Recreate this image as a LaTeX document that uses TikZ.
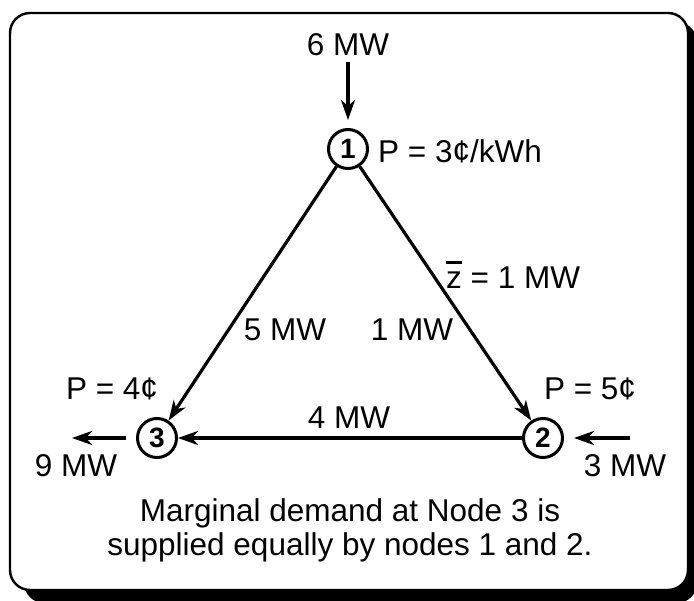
\documentclass[tikz,border=0pt]{standalone}
\usepackage{fontspec}
\setmainfont{Liberation Sans}
\usetikzlibrary{arrows.meta}
\newcommand{\zbar}{\makebox[0pt][l]{\raisebox{0.78em}{\rule{0.5em}{0.1em}}}z}
\begin{document}
\begin{tikzpicture}[x=1pt,y=-1pt,
  bus/.style={circle,draw,line width=3pt,minimum size=39pt,inner sep=0pt,font=\fontsize{28}{30}\selectfont\bfseries},
  lbl/.style={font=\fontsize{31.5}{34}\selectfont,inner sep=0pt},
  flow/.style={line width=3.2pt,-{Stealth[length=20pt,width=14pt,inset=6pt]}}]
\useasboundingbox (0,0) rectangle (694,601);
\begin{scope}
\clip (0,0) rectangle (694,601);
\fill[black,rounded corners=20pt] (24,22) rectangle (697,603);
\end{scope}
\draw[fill=white,line width=2.4pt,rounded corners=20pt] (10,13) rectangle (688,590);
% buses
\node[bus] (n1) at (348,149) {1};
\node[bus] (n2) at (543,438) {2};
\node[bus] (n3) at (157,438) {3};
\coordinate (in1) at (348,62);
\coordinate (out3) at (72,438);
\coordinate (in2) at (630,438);
% lines
\draw[flow] (n1) -- (n3);
\draw[flow] (n1) -- (n2);
\draw[flow] (n2) -- (n3);
\draw[flow,shorten >=8pt] (in1) -- (n1);
\draw[flow,shorten <=10pt] (n3) -- (out3);
\draw[flow,shorten >=10pt] (in2) -- (n2);
% labels
\node[lbl] (l6) at (348,45) {6 MW};
\node[lbl,anchor=west] (lp1) at (378,151) {P = 3¢/kWh};
\node[lbl,anchor=west] (lz) at (446,275) {\zbar\ = 1 MW};
\node[lbl] (l5) at (285,330) {5 MW};
\node[lbl] (l1) at (412,330) {1 MW};
\node[lbl] (l4) at (349,418) {4 MW};
\node[lbl] (lp3) at (112,389) {P = 4¢};
\node[lbl] (lp2) at (590,389) {P = 5¢};
\node[lbl] (l9) at (76,466) {9 MW};
\node[lbl] (l3) at (625,466) {3 MW};
\node[lbl,align=center] (cap) at (350,530) {Marginal demand at Node 3 is\\supplied equally by nodes 1 and 2.};
\end{tikzpicture}
\end{document}
